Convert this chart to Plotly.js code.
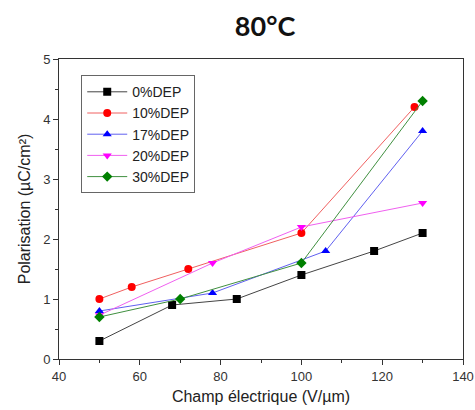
<!DOCTYPE html>
<html>
<head>
<meta charset="utf-8">
<script src="https://cdn.plot.ly/plotly-3.0.1.min.js"></script>
<style>html,body{margin:0;padding:0;background:#fff;}#chart{width:475px;height:410px;}</style>
</head>
<body>
<div id="chart"></div>
<script>
const seriesNames = ["0%DEP", "10%DEP", "17%DEP", "20%DEP", "30%DEP"];
const x0 = [50, 68, 84, 100, 118, 130];
const y0 = [0.3, 0.9, 1.0, 1.4, 1.8, 2.1];
const x10 = [50, 58, 72, 100, 128];
const y10 = [1.0, 1.2, 1.5, 2.1, 4.2];
const x17 = [50, 78, 106, 130];
const y17 = [0.8, 1.1, 1.8, 3.8];
const x20 = [50, 78, 100, 130];
const y20 = [0.73, 1.6, 2.2, 2.6];
const x30 = [50, 70, 100, 130];
const y30 = [0.7, 1.0, 1.6, 4.3];
const xTicks = [40, 60, 80, 100, 120, 140];
const yTicks = [0, 1, 2, 3, 4, 5];

const markerColors = ["#000000", "#ff0000", "#0000ff", "#ff00ff", "#008000"];
const lineColors = ["#444444", "#f06060", "#6060f0", "#f060f0", "#409040"];
const symbols = ["square", "circle", "triangle-up", "triangle-down", "diamond"];
const xs = [x0, x10, x17, x20, x30];
const ys = [y0, y10, y17, y20, y30];

const traces = seriesNames.map((n, i) => ({
  x: xs[i], y: ys[i], name: n, type: "scatter", mode: "lines+markers",
  line: {color: lineColors[i], width: 1},
  marker: {color: markerColors[i], symbol: symbols[i], size: 8}
}));

const axisFont = {family: "Liberation Sans, Arial, sans-serif", size: 13, color: "#333"};
const titleFont = {family: "Liberation Sans, Arial, sans-serif", size: 16, color: "#222"};
const layout = {
  width: 475, height: 410,
  margin: {l: 59, r: 12, t: 59, b: 51},
  paper_bgcolor: "#fff", plot_bgcolor: "#fff",
  showlegend: true,
  title: {text: "<b>80°C</b>", font: {family: "Lato, 'Open Sans', sans-serif", size: 27, color: "#111"}, x: 0.558, xanchor: "center", y: 0.936, yanchor: "middle"},
  xaxis: {
    range: [40, 140], tickvals: xTicks, ticktext: xTicks.map(String),
    showgrid: false, zeroline: false, showline: true, linecolor: "#333", linewidth: 1, mirror: true,
    ticks: "outside", ticklen: 5, tickcolor: "#333",
    minor: {dtick: 10, tick0: 40, ticks: "outside", ticklen: 3, tickcolor: "#333", showgrid: false},
    tickfont: axisFont,
    title: {text: "Champ électrique (V/µm)", font: titleFont, standoff: 8}
  },
  yaxis: {
    range: [0, 5], tickvals: yTicks, ticktext: yTicks.map(String),
    showgrid: false, zeroline: false, showline: true, linecolor: "#333", linewidth: 1, mirror: true,
    ticks: "outside", ticklen: 5, tickcolor: "#333",
    minor: {dtick: 0.5, tick0: 0, ticks: "outside", ticklen: 3, tickcolor: "#333", showgrid: false},
    tickfont: axisFont,
    title: {text: "Polarisation (µC/cm²)", font: titleFont, standoff: 8}
  },
  legend: {
    x: 0.055, y: 0.946, xanchor: "left", yanchor: "top",
    bgcolor: "#fff", bordercolor: "#666", borderwidth: 1,
    font: {family: "Liberation Sans, Arial, sans-serif", size: 14, color: "#222"},
    itemwidth: 40
  }
};
Plotly.newPlot("chart", traces, layout, {displayModeBar: false, staticPlot: true});
</script>
</body>
</html>
